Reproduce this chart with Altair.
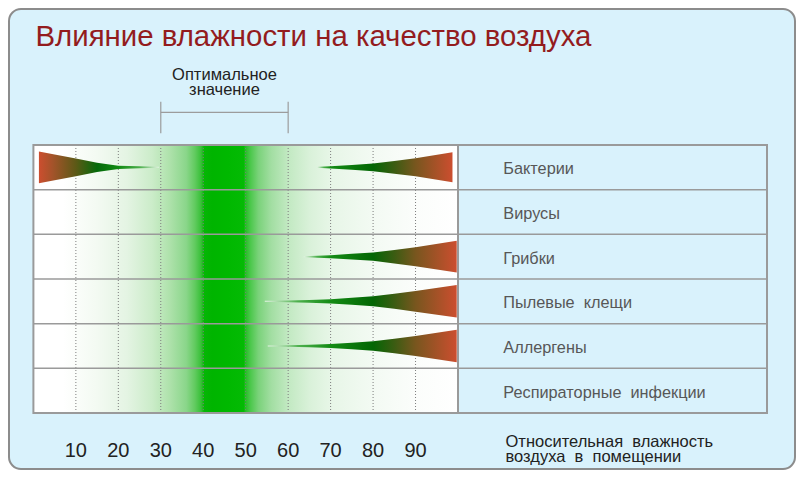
import altair as alt
import pandas as pd

# ---------------- data ----------------
title_text = "Влияние влажности на качество воздуха"
optimal_label = "Оптимальное\nзначение"
axis_label = "Относительная \u00a0влажность\nвоздуха \u00a0в \u00a0помещении"
categories = ["Бактерии", "Вирусы", "Грибки", "Пылевые \u00a0клещи",
              "Аллергены", "Респираторные \u00a0инфекции"]
humidity_ticks = [10, 20, 30, 40, 50, 60, 70, 80, 90]
optimal_range = [30, 60]

# wedge outlines: humidity points and half-thickness (fraction of a row)
bacteria_left_x = [1.3, 5, 10, 15, 20, 25, 29.6]
bacteria_left_h = [0.354, 0.287, 0.197, 0.105, 0.038, 0.022, 0.011]
bacteria_right_x = [66.8, 70, 75, 80, 85, 90, 98.7]
bacteria_right_h = [0.011, 0.027, 0.054, 0.087, 0.141, 0.201, 0.336]
fungi_x = [63.7, 70, 75, 80, 85, 90, 99.7]
fungi_h = [0.011, 0.034, 0.063, 0.094, 0.152, 0.213, 0.354]
mites_x = [54.5, 60, 65, 70, 75, 80, 85, 90, 99.7]
mites_h = [0.011, 0.018, 0.031, 0.049, 0.078, 0.112, 0.168, 0.231, 0.363]
allergens_x = [55.2, 60, 65, 70, 75, 80, 85, 90, 99.7]
allergens_h = [0.011, 0.018, 0.029, 0.045, 0.072, 0.105, 0.161, 0.224, 0.363]

wedges = [
    (0, bacteria_left_x, bacteria_left_h, "left"),
    (0, bacteria_right_x, bacteria_right_h, "right"),
    (2, fungi_x, fungi_h, "right"),
    (3, mites_x, mites_h, "right"),
    (4, allergens_x, allergens_h, "right"),
]

# ---------------- layout ----------------
W, H = 786, 460
PAD = 1
PX_X = 4.246          # px per humidity unit
PX_Y = 44.667         # px per row
ORIGIN_X = 33.4 - 8 - PAD
ORIGIN_Y = 145 - 8 - PAD
XD = [-ORIGIN_X / PX_X, (W - ORIGIN_X) / PX_X]
YD = [-ORIGIN_Y / PX_Y, (H - ORIGIN_Y) / PX_Y]
PANEL_RIGHT = (767 - 33.4) / PX_X
NROWS = len(categories)

def py(page_y):
    return (page_y - 145) / PX_Y

def px(page_x):
    return (page_x - 33.4) / PX_X

XS = alt.Scale(domain=XD, nice=False, zero=False)
YS = alt.Scale(domain=YD, nice=False, zero=False, reverse=True)

def X(f):
    return alt.X(f, type="quantitative", scale=XS, axis=None)

def Y(f):
    return alt.Y(f, type="quantitative", scale=YS, axis=None)

FONT = "Liberation Sans, Arial, sans-serif"

def grad(stops):
    return alt.LinearGradient(
        gradient="linear", x1=0, y1=0, x2=1, y2=0,
        stops=[alt.GradientStop(offset=o, color=c) for o, c in stops])

# background green band
bg_stops = [(0, "#ffffff"), (0.07, "#ffffff"), (0.15, "#f3faf2"), (0.22, "#e4f4e3"),
            (0.28, "#cbecc9"), (0.32, "#afe2ac"), (0.36, "#8ad68a"), (0.38, "#62cb60"),
            (0.395, "#38c038"), (0.402, "#06b606"), (0.42, "#00b400"), (0.46, "#00b800"),
            (0.495, "#04ba04"), (0.50, "#26c026"), (0.51, "#48c748"), (0.53, "#7ad27a"),
            (0.56, "#a2dea2"), (0.60, "#c2e9c2"), (0.65, "#d9f1d9"), (0.70, "#e7f6e7"),
            (0.80, "#f3faf3"), (0.90, "#fbfdfb"), (1.0, "#ffffff")]
bg_df = pd.DataFrame({"x0": [0], "x1": [100], "y0": [0], "y1": [NROWS]})
bg = alt.Chart(bg_df).mark_rect(color=grad(bg_stops)).encode(
    x=X("x0"), x2="x1", y=Y("y0"), y2="y1")

grid_df = pd.DataFrame({"h": humidity_ticks, "y0": 0, "y1": NROWS})
grid = alt.Chart(grid_df).mark_rule(color="#7d7d7d", strokeDash=[1, 2], strokeWidth=1).encode(
    x=X("h"), y=Y("y0"), y2="y1")

layers = [bg, grid]

for row, xs, hs, side in wedges:
    c = row + 0.5
    df = pd.DataFrame({"x": xs, "lo": [c - h for h in hs], "hi": [c + h for h in hs]})
    x0, x1 = min(xs), max(xs)
    if side == "left":
        abs_stops = [(x0, "#cc4e2f"), (4.5, "#a4532a"), (10, "#5c5916"), (15, "#05690a"),
                     (20, "#108a12"), (25, "#4aae4a"), (x1, "#e4f4e4")]
    else:
        mid = (x0 + 70) / 2
        abs_stops = [(x0, "#e4f4e4"), (mid, "#4cb04c"), (70, "#138b14"), (80, "#036604"),
                     (85, "#3b5c12"), (90, "#78561e"), (x1, "#cc4e2f")]
    stops = []
    for xa, col in abs_stops:
        o = (xa - x0) / (x1 - x0)
        o = min(max(o, 0), 1)
        stops.append((o, col))
    stops.sort(key=lambda s: s[0])
    layers.append(alt.Chart(df).mark_area(orient="vertical", color=grad(stops),
                                          interpolate="linear").encode(
        x=X("x"), y=Y("lo"), y2="hi"))

rows_df = pd.DataFrame({"r": list(range(1, NROWS)), "x0": 0, "x1": PANEL_RIGHT})
layers.append(alt.Chart(rows_df).mark_rule(color="#9a9a9a", strokeWidth=1.5).encode(
    y=Y("r"), x=X("x0"), x2="x1"))

sep_df = pd.DataFrame({"x": [100], "y0": [0], "y1": [NROWS]})
layers.append(alt.Chart(sep_df).mark_rule(color="#9a9a9a", strokeWidth=2).encode(
    x=X("x"), y=Y("y0"), y2="y1"))

border_df = pd.DataFrame({"x0": [0], "x1": [PANEL_RIGHT], "y0": [0], "y1": [NROWS]})
layers.append(alt.Chart(border_df).mark_rect(filled=False, stroke="#9a9a9a", strokeWidth=2).encode(
    x=X("x0"), x2="x1", y=Y("y0"), y2="y1"))

cat_df = pd.DataFrame({"name": categories, "y": [i + 0.5 for i in range(NROWS)], "x": px(503.3)})
layers.append(alt.Chart(cat_df).mark_text(align="left", baseline="middle", dy=2, font=FONT,
                                          fontSize=16.3, color="#575757").encode(
    x=X("x"), y=Y("y"), text="name:N"))

tick_df = pd.DataFrame({"h": humidity_ticks, "lab": [str(t) for t in humidity_ticks], "y": py(457.3)})
layers.append(alt.Chart(tick_df).mark_text(align="center", baseline="alphabetic", font=FONT,
                                           fontSize=20, color="#222222").encode(
    x=X("h"), y=Y("y"), text="lab:N"))

axt_df = pd.DataFrame({"t": [axis_label], "x": [px(505.5)], "y": [py(446.5)]})
layers.append(alt.Chart(axt_df).mark_text(align="left", baseline="alphabetic", font=FONT,
                                          fontSize=16.5, lineBreak="\n", lineHeight=15.5,
                                          color="#222222").encode(
    x=X("x"), y=Y("y"), text="t:N"))

title_df = pd.DataFrame({"t": [title_text], "x": [px(35.5)], "y": [py(45.7)]})
layers.append(alt.Chart(title_df).mark_text(align="left", baseline="alphabetic", font=FONT,
                                            fontSize=29.4, color="#931c1e").encode(
    x=X("x"), y=Y("y"), text="t:N"))

opt_df = pd.DataFrame({"t": [optimal_label], "x": [sum(optimal_range) / 2], "y": [py(79.5)]})
layers.append(alt.Chart(opt_df).mark_text(align="center", baseline="alphabetic", font=FONT,
                                          fontSize=16.5, lineBreak="\n", lineHeight=15,
                                          color="#222222").encode(
    x=X("x"), y=Y("y"), text="t:N"))

brv_df = pd.DataFrame({"x": optimal_range, "y0": py(101.7), "y1": py(133.3)})
layers.append(alt.Chart(brv_df).mark_rule(color="#9c9c9c", strokeWidth=1.2).encode(
    x=X("x"), y=Y("y0"), y2="y1"))
brh_df = pd.DataFrame({"x0": [optimal_range[0]], "x1": [optimal_range[1]], "y": [py(112.3)]})
layers.append(alt.Chart(brh_df).mark_rule(color="#9c9c9c", strokeWidth=1.2).encode(
    x=X("x0"), x2="x1", y=Y("y")))

chart = alt.layer(*layers).properties(
    width=W, height=H,
    autosize=alt.AutoSizeParams(type="none"),
    padding={"left": PAD, "top": PAD, "right": PAD, "bottom": PAD},
    background="#ffffff",
).configure_view(fill="#d9f2fc", stroke="#8c8c8c", strokeWidth=2, cornerRadius=12)

chart.save("out.html", embed_options={"renderer": "svg", "actions": False})
